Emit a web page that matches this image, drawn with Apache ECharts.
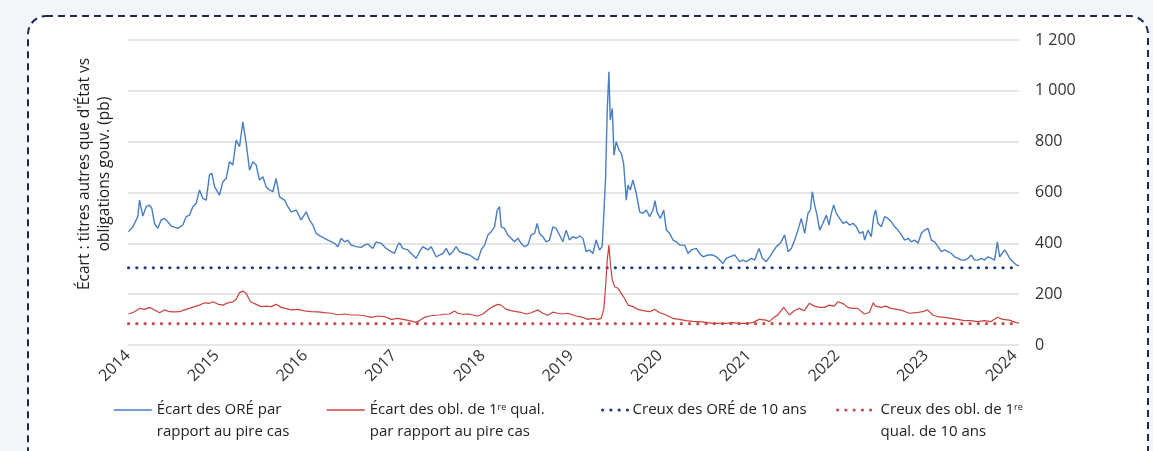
<!DOCTYPE html>
<html>
<head>
<meta charset="utf-8">
<script src="https://cdn.jsdelivr.net/npm/echarts@6/dist/echarts.min.js"></script>
<style>
  html, body { margin: 0; padding: 0; background: #f2f5fa; }
  #chart { width: 1153px; height: 451px; }
</style>
</head>
<body>
<div id="chart"></div>
<script>
// ---- Data ----
const yearTicks = [2014, 2015, 2016, 2017, 2018, 2019, 2020, 2021, 2022, 2023, 2024];

// Spread of ORÉ vs worst case (bp) — dates as decimal years
const oreDates = [
  2014.006, 2014.055, 2014.111, 2014.130, 2014.167, 2014.205, 2014.242, 2014.269, 2014.299, 2014.336,
  2014.374, 2014.412, 2014.449, 2014.487, 2014.562, 2014.618, 2014.656, 2014.694, 2014.731, 2014.769,
  2014.806, 2014.844, 2014.882, 2014.919, 2014.946, 2014.976, 2015.032, 2015.070, 2015.107, 2015.145,
  2015.182, 2015.220, 2015.258, 2015.295, 2015.333, 2015.371, 2015.408, 2015.446, 2015.483, 2015.521,
  2015.558, 2015.596, 2015.633, 2015.671, 2015.709, 2015.765, 2015.803, 2015.840, 2015.897, 2015.953,
  2016.010, 2016.047, 2016.085, 2016.122, 2016.179, 2016.254, 2016.329, 2016.367, 2016.404, 2016.442,
  2016.479, 2016.517, 2016.573, 2016.630, 2016.667, 2016.705, 2016.761, 2016.799, 2016.855, 2016.912,
  2016.968, 2017.005, 2017.043, 2017.062, 2017.100, 2017.156, 2017.194, 2017.250, 2017.288, 2017.325,
  2017.382, 2017.419, 2017.476, 2017.513, 2017.551, 2017.589, 2017.626, 2017.664, 2017.701, 2017.739,
  2017.795, 2017.852, 2017.908, 2017.946, 2017.983, 2018.021, 2018.059, 2018.096, 2018.134, 2018.164,
  2018.190, 2018.209, 2018.246, 2018.284, 2018.321, 2018.359, 2018.397, 2018.434, 2018.472, 2018.509,
  2018.547, 2018.585, 2018.615, 2018.641, 2018.679, 2018.716, 2018.754, 2018.792, 2018.829, 2018.867,
  2018.904, 2018.942, 2018.979, 2019.017, 2019.055, 2019.092, 2019.130, 2019.168, 2019.205, 2019.243,
  2019.280, 2019.318, 2019.348, 2019.367, 2019.386, 2019.405, 2019.424, 2019.439, 2019.462, 2019.481,
  2019.507, 2019.537, 2019.564, 2019.590, 2019.620, 2019.639, 2019.665, 2019.695, 2019.733, 2019.771,
  2019.808, 2019.846, 2019.883, 2019.921, 2019.944, 2019.966, 2020.004, 2020.042, 2020.072, 2020.109,
  2020.147, 2020.185, 2020.222, 2020.278, 2020.316, 2020.353, 2020.410, 2020.447, 2020.485, 2020.541,
  2020.598, 2020.635, 2020.673, 2020.711, 2020.748, 2020.786, 2020.842, 2020.899, 2020.936, 2020.974,
  2021.030, 2021.068, 2021.117, 2021.154, 2021.199, 2021.237, 2021.274, 2021.312, 2021.357, 2021.406,
  2021.444, 2021.481, 2021.519, 2021.556, 2021.594, 2021.632, 2021.669, 2021.695, 2021.718, 2021.744,
  2021.771, 2021.801, 2021.838, 2021.876, 2021.906, 2021.932, 2021.959, 2021.989, 2022.026, 2022.064,
  2022.102, 2022.139, 2022.177, 2022.214, 2022.252, 2022.290, 2022.308, 2022.346, 2022.383, 2022.410,
  2022.432, 2022.459, 2022.496, 2022.534, 2022.571, 2022.609, 2022.647, 2022.684, 2022.722, 2022.759,
  2022.797, 2022.835, 2022.872, 2022.910, 2022.947, 2022.985, 2023.023, 2023.060, 2023.098, 2023.135,
  2023.173, 2023.211, 2023.248, 2023.286, 2023.323, 2023.361, 2023.399, 2023.436, 2023.474, 2023.511,
  2023.549, 2023.586, 2023.624, 2023.662, 2023.699, 2023.737, 2023.774, 2023.805, 2023.831, 2023.857,
  2023.887, 2023.914, 2023.944, 2023.981, 2024.019, 2024.049
];
const oreSpread = [
  446, 465, 505, 570, 507, 544, 550, 537, 478, 459,
  492, 498, 485, 468, 459, 472, 505, 511, 544, 557,
  610, 577, 570, 669, 675, 623, 590, 642, 655, 721,
  708, 806, 780, 878, 793, 688, 721, 708, 649, 662,
  623, 610, 603, 655, 583, 570, 544, 524, 531, 492,
  524, 492, 472, 439, 426, 413, 400, 387, 420, 406,
  413, 393, 387, 384, 393, 397, 380, 406, 400, 380,
  367, 360, 393, 402, 380, 374, 360, 341, 367, 387,
  374, 387, 347, 354, 360, 380, 354, 367, 387, 367,
  360, 354, 341, 334, 374, 393, 433, 446, 465, 531,
  544, 465, 459, 433, 420, 406, 420, 400, 387, 393,
  433, 439, 478, 439, 426, 406, 413, 465, 459, 433,
  406, 452, 413, 426, 420, 429, 420, 367, 374, 360,
  413, 374, 387, 518, 656, 924, 1075, 885, 931, 747,
  800, 767, 754, 714, 570, 629, 610, 649, 596, 524,
  518, 531, 505, 531, 568, 524, 498, 531, 452, 439,
  413, 406, 393, 393, 360, 374, 380, 360, 347, 354,
  354, 347, 334, 321, 341, 347, 354, 328, 334, 328,
  341, 334, 380, 341, 328, 347, 367, 387, 400, 433,
  367, 380, 413, 452, 498, 439, 518, 531, 603, 551,
  511, 452, 479, 511, 472, 518, 551, 518, 498, 479,
  485, 472, 479, 465, 439, 446, 413, 452, 426, 505,
  531, 479, 465, 505, 498, 485, 465, 452, 433, 413,
  420, 406, 413, 400, 439, 452, 459, 413, 406, 387,
  367, 374, 367, 360, 347, 341, 334, 334, 341, 354,
  334, 334, 341, 334, 347, 341, 334, 406, 347, 360,
  374, 360, 341, 328, 315, 311
];

// Spread of high-grade bonds vs worst case (bp)
const hgDates = [
  2014.006, 2014.073, 2014.130, 2014.186, 2014.242, 2014.299, 2014.355, 2014.412, 2014.468, 2014.524,
  2014.581, 2014.637, 2014.694, 2014.750, 2014.806, 2014.863, 2014.919, 2014.957, 2015.013, 2015.070,
  2015.126, 2015.182, 2015.220, 2015.258, 2015.295, 2015.333, 2015.382, 2015.446, 2015.502, 2015.558,
  2015.615, 2015.671, 2015.727, 2015.784, 2015.840, 2015.915, 2015.991, 2016.066, 2016.141, 2016.216,
  2016.291, 2016.367, 2016.442, 2016.517, 2016.592, 2016.667, 2016.742, 2016.818, 2016.893, 2016.968,
  2017.043, 2017.100, 2017.175, 2017.250, 2017.288, 2017.344, 2017.400, 2017.457, 2017.513, 2017.570,
  2017.626, 2017.682, 2017.720, 2017.776, 2017.833, 2017.889, 2017.946, 2018.002, 2018.059, 2018.115,
  2018.171, 2018.209, 2018.265, 2018.321, 2018.378, 2018.434, 2018.491, 2018.547, 2018.622, 2018.679,
  2018.735, 2018.792, 2018.848, 2018.904, 2018.961, 2019.055, 2019.130, 2019.186, 2019.243, 2019.299,
  2019.337, 2019.367, 2019.386, 2019.405, 2019.424, 2019.443, 2019.462, 2019.488, 2019.526, 2019.564,
  2019.601, 2019.639, 2019.695, 2019.752, 2019.808, 2019.883, 2019.940, 2019.992, 2020.068, 2020.143,
  2020.218, 2020.293, 2020.368, 2020.444, 2020.519, 2020.594, 2020.669, 2020.744, 2020.820, 2020.895,
  2020.970, 2021.045, 2021.120, 2021.195, 2021.233, 2021.271, 2021.327, 2021.395, 2021.459, 2021.515,
  2021.571, 2021.628, 2021.684, 2021.741, 2021.797, 2021.853, 2021.910, 2021.966, 2022.004, 2022.060,
  2022.117, 2022.173, 2022.229, 2022.305, 2022.361, 2022.406, 2022.429, 2022.493, 2022.549, 2022.605,
  2022.680, 2022.737, 2022.812, 2022.887, 2022.962, 2023.019, 2023.075, 2023.132, 2023.207, 2023.282,
  2023.357, 2023.432, 2023.508, 2023.583, 2023.658, 2023.733, 2023.808, 2023.865, 2023.940, 2024.019,
  2024.049
];
const hgSpread = [
  122, 131, 144, 140, 148, 138, 127, 138, 131, 130,
  131, 138, 144, 151, 157, 166, 164, 170, 161, 157,
  166, 170, 180, 206, 212, 203, 170, 160, 151, 153,
  151, 160, 148, 143, 138, 140, 134, 131, 130, 127,
  125, 119, 122, 118, 118, 115, 109, 114, 112, 101,
  105, 101, 96, 89, 96, 109, 114, 117, 118, 121,
  122, 134, 125, 121, 122, 118, 114, 122, 138, 151,
  160, 157, 140, 135, 131, 128, 122, 127, 138, 125,
  117, 129, 125, 122, 125, 114, 109, 101, 105, 101,
  105, 144, 229, 334, 393, 308, 256, 229, 223, 203,
  183, 157, 151, 140, 135, 131, 140, 128, 118, 105,
  101, 96, 93, 92, 89, 85, 85, 85, 88, 85,
  85, 88, 101, 98, 92, 105, 118, 148, 118, 135,
  144, 135, 164, 153, 148, 148, 157, 153, 170, 164,
  148, 144, 144, 122, 128, 166, 153, 148, 153, 144,
  140, 135, 125, 127, 131, 138, 118, 112, 109, 105,
  101, 96, 96, 92, 96, 92, 109, 101, 98, 88,
  86
];

// 10-year troughs (bp)
const troughDates = [2014.006, 2024.049];
const oreTrough = [304, 304];
const hgTrough = [84, 84];

const seriesNames = [
  'Écart des ORÉ par rapport au pire cas',
  'Écart des obl. de 1re qual. par rapport au pire cas',
  'Creux des ORÉ de 10 ans',
  'Creux des obl. de 1re qual. de 10 ans'
];
const legendLabels = [
  'Écart des ORÉ par\nrapport au pire cas',
  'Écart des obl. de 1{sup|re} qual.\npar rapport au pire cas',
  'Creux des ORÉ de 10 ans',
  'Creux des obl. de 1{sup|re}\nqual. de 10 ans'
];
const yAxisTitle = "Écart : titres autres que d'État vs\nobligations gouv. (pb)";

// ---- Chart ----
const FONT = 'Open Sans';
const zip = (xs, ys) => xs.map((x, i) => [x, ys[i]]);
const chart = echarts.init(document.getElementById('chart'), null, { renderer: 'canvas' });

const C_BLUE = '#4a7ec2';
const C_RED = '#c8423f';
const C_NAVY = '#1f3f78';
const C_RED_DOT = '#c9504c';

const richSup = {
  sup: { fontSize: 9, lineHeight: 12, verticalAlign: 'top', padding: [4, 0, 0, 0], fontFamily: FONT, color: '#222' }
};

function legendFor(name, left, twoLines, itemWidth, lineStyle) {
  return {
    data: [name],
    left: left,
    top: twoLines ? 377 : 399,
    padding: 0,
    itemWidth: itemWidth,
    itemHeight: 14,
    itemStyle: { color: 'rgba(0,0,0,0)', borderWidth: 0, opacity: 0 },
    lineStyle: lineStyle,
    formatter: function (n) { return legendLabels[seriesNames.indexOf(n)]; },
    textStyle: {
      fontFamily: FONT, fontSize: 15, color: '#222', lineHeight: 22,
      padding: twoLines ? [22, 0, 0, 0] : 0,
      rich: richSup
    }
  };
}

const dotStyle = (color) => ({ color: color, width: 3.2, type: [0.1, 8.15], cap: 'round' });
const solidStyle = (color, w) => ({ color: color, width: w, type: 'solid', cap: 'butt' });

const option = {
  animation: false,
  backgroundColor: '#f2f5fa',
  textStyle: { fontFamily: FONT },
  graphic: [
    {
      type: 'rect', z: -10, silent: true,
      shape: { x: 28, y: 16, width: 1120, height: 470, r: 18 },
      style: { fill: '#ffffff', stroke: '#1b2b4f', lineWidth: 2, lineDash: [7, 5] }
    },
    {
      type: 'text', silent: true,
      x: 95, y: 174, rotation: Math.PI / 2,
      style: {
        text: yAxisTitle, fontFamily: FONT, fontSize: 15.5, lineHeight: 20,
        fill: '#222', align: 'center', verticalAlign: 'middle'
      }
    }
  ],
  grid: { left: 128, right: 134, top: 40, bottom: 106, containLabel: false },
  legend: [
    legendFor(seriesNames[0], 113, true, 38, solidStyle(C_BLUE, 1.5)),
    legendFor(seriesNames[1], 326, true, 38, solidStyle(C_RED, 1.5)),
    legendFor(seriesNames[2], 601, false, 25, dotStyle(C_NAVY)),
    legendFor(seriesNames[3], 836, true, 38, dotStyle(C_RED_DOT))
  ],
  xAxis: {
    type: 'value',
    min: yearTicks[0],
    max: troughDates[1],
    interval: 1,
    axisLine: { show: false },
    axisTick: { show: false },
    splitLine: { show: false },
    axisLabel: {
      rotate: 45, margin: 8, fontSize: 16, color: '#333', fontFamily: FONT,
      formatter: function (v) { return yearTicks.indexOf(v) >= 0 ? String(v) : ''; }
    }
  },
  yAxis: {
    type: 'value',
    position: 'right',
    min: 0, max: 1200, interval: 200,
    axisLine: { show: false },
    axisTick: { show: false },
    splitLine: { lineStyle: { color: '#dedede', width: 1.5 } },
    axisLabel: {
      margin: 16, fontSize: 16, color: '#333', fontFamily: FONT,
      formatter: function (v) { return String(v).replace(/\B(?=(\d{3})+(?!\d))/g, ' '); }
    }
  },
  series: [
    {
      name: seriesNames[0], type: 'line', data: zip(oreDates, oreSpread),
      symbol: 'none', lineStyle: { color: C_BLUE, width: 1.4 }, itemStyle: { color: C_BLUE }, z: 4
    },
    {
      name: seriesNames[1], type: 'line', data: zip(hgDates, hgSpread),
      symbol: 'none', lineStyle: { color: C_RED, width: 1.2 }, itemStyle: { color: C_RED }, z: 4
    },
    {
      name: seriesNames[2], type: 'line', data: zip(troughDates, oreTrough),
      symbol: 'none', lineStyle: dotStyle(C_NAVY), itemStyle: { color: C_NAVY }, z: 3
    },
    {
      name: seriesNames[3], type: 'line', data: zip(troughDates, hgTrough),
      symbol: 'none', lineStyle: dotStyle(C_RED_DOT), itemStyle: { color: C_RED_DOT }, z: 3
    }
  ]
};
chart.setOption(option);
</script>
</body>
</html>
